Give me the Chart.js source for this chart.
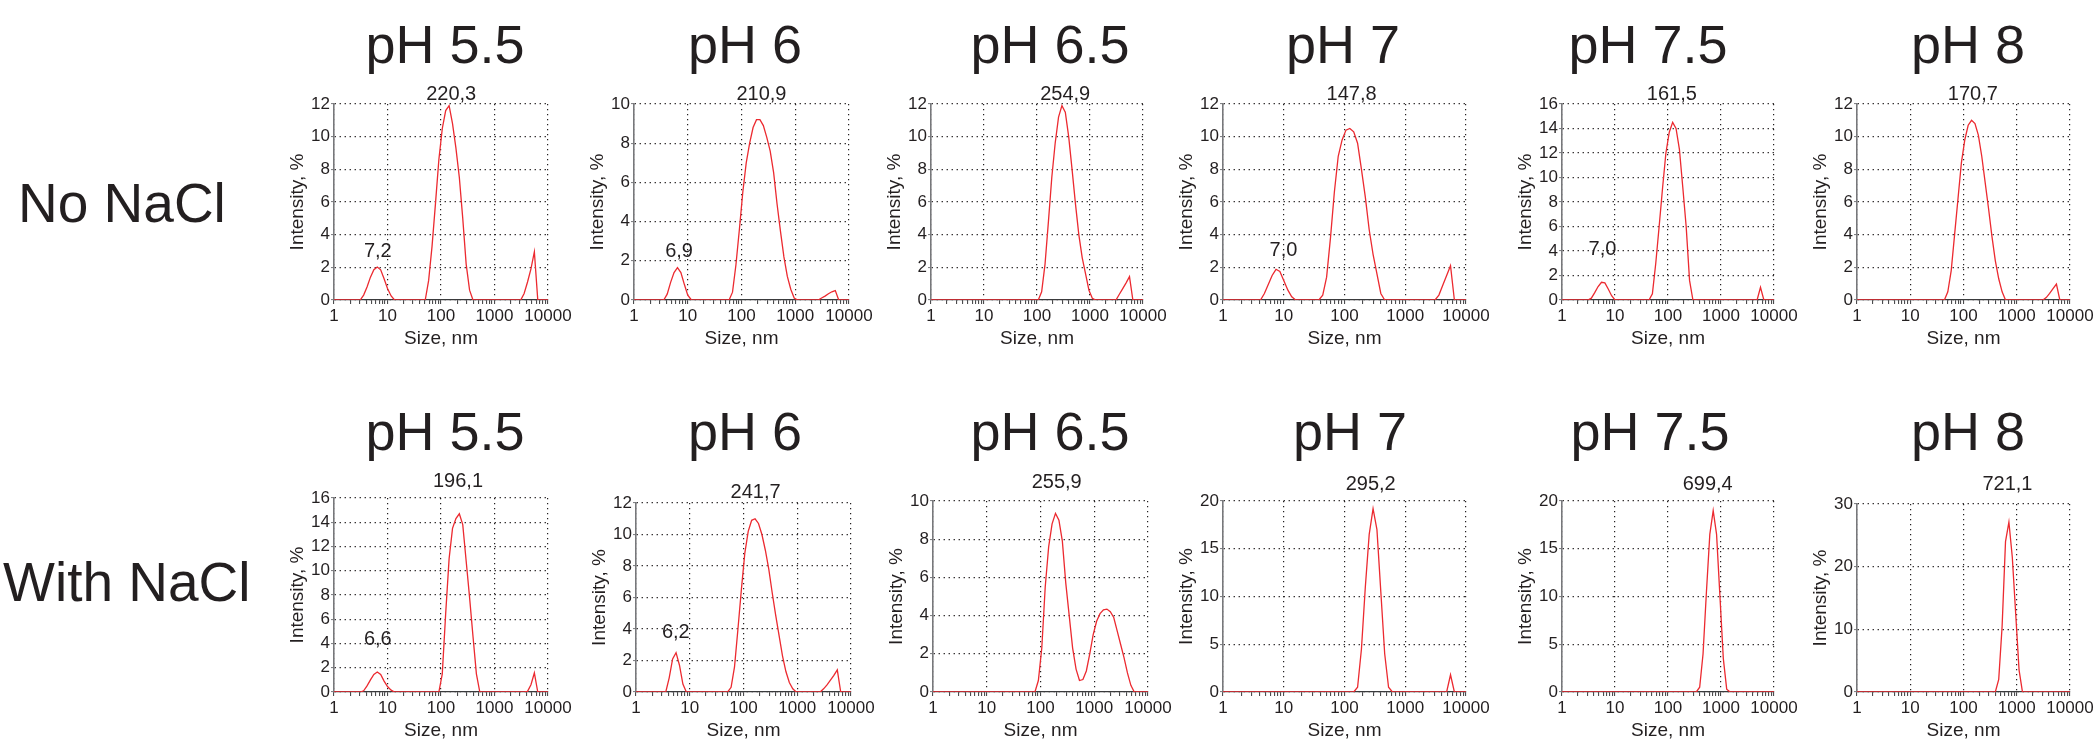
<!DOCTYPE html>
<html>
<head>
<meta charset="utf-8">
<script src="https://cdn.jsdelivr.net/npm/chart.js@4.4.1/dist/chart.umd.min.js"></script>
<style>
  html, body { margin: 0; padding: 0; background: #ffffff; }
  body { width: 2096px; height: 744px; position: relative; overflow: hidden;
         font-family: "Liberation Sans", Arial, Helvetica, sans-serif; color: #231f20; }
  canvas { position: absolute; }
  .t { position: absolute; white-space: nowrap; line-height: 1; text-align: center; }
  .r { position: absolute; white-space: nowrap; line-height: 1; }
</style>
</head>
<body>
<script>
// ---------------- DATA ----------------
const COLUMN_TITLES = ['pH 5.5', 'pH 6', 'pH 6.5', 'pH 7', 'pH 7.5', 'pH 8'];
const ROW_TITLES = ['No NaCl', 'With NaCl'];
const X_TICK_LABELS = [1, 10, 100, 1000, 10000];
const X_AXIS_TITLE = 'Size, nm';
const Y_AXIS_TITLE = 'Intensity, %';

// y-axis maxima and steps (No NaCl row, With NaCl row)
const Y_MAX_NO_NACL   = [12, 10, 12, 12, 16, 12];
const Y_STEP_NO_NACL  = [2, 2, 2, 2, 2, 2];
const Y_MAX_NACL      = [16, 12, 10, 20, 20, 30];
const Y_STEP_NACL     = [2, 2, 2, 5, 5, 10];

// size distributions by intensity: [size nm, intensity %]
const noNaCl_pH55 = [[1,0],[3.091,0],[3.580,0.3],[4.145,0.8],[4.801,1.4],[5.560,1.85],[6.439,2.02],[7.456,1.85],[8.635,1.3],[10,0.7],[11.70,0.25],[13.54,0],
  [50.75,0],[58.77,1.2],[68.06,3.3],[78.82,5.9],[91.28,8.6],[105.7,10.5],[122.4,11.6],[141.8,11.9],[164.2,10.8],[190.1,9.3],[220.2,7.5],[255.0,5.0],[295.3,2.2],[342.0,0.6],[396.1,0],
  [3091,0],[3580,0.4],[4145,1.1],[4801,1.9],[5560,2.95],[6439,0],[10000,0]];
const noNaCl_pH6 = [[1,0],[3.580,0],[4.145,0.3],[4.801,0.9],[5.560,1.4],[6.439,1.65],[7.456,1.4],[8.635,0.8],[10,0.25],[11.70,0],
  [58.77,0],[68.06,0.4],[78.82,1.8],[91.28,3.6],[105.7,5.5],[122.4,7.0],[141.8,8.0],[164.2,8.8],[190.1,9.2],[220.2,9.2],[255.0,8.9],[295.3,8.3],[342.0,7.6],[396.1,6.5],[458.7,4.9],[531.2,3.5],[615.1,2.2],[712.4,1.2],[825.0,0.55],[955.4,0.1],[1106,0],
  [2669,0],[3091,0.1],[3580,0.2],[4145,0.32],[4801,0.42],[5560,0.48],[6439,0],[10000,0]];
const noNaCl_pH65 = [[1,0],[105.7,0],[122.4,0.5],[141.8,2.2],[164.2,4.8],[190.1,7.5],[220.2,9.6],[255.0,11.2],[295.3,11.9],[342.0,11.5],[396.1,10.0],[458.7,8.0],[531.2,5.9],[615.1,4.0],[712.4,2.6],[825.0,1.6],[955.4,0.6],[1106,0.1],[1281,0],
  [3091,0],[3580,0.35],[4145,0.7],[4801,1.05],[5560,1.43],[6439,0],[10000,0]];
const noNaCl_pH7 = [[1,0],[4.145,0],[4.801,0.4],[5.560,0.95],[6.439,1.5],[7.456,1.88],[8.635,1.75],[10,1.2],[11.70,0.6],[13.54,0.2],[15.69,0],
  [37.84,0],[43.82,0.3],[50.75,1.4],[58.77,3.8],[68.06,6.6],[78.82,8.8],[91.28,9.8],[105.7,10.4],[122.4,10.5],[141.8,10.3],[164.2,9.6],[190.1,8.0],[220.2,6.3],[255.0,4.3],[295.3,2.8],[342.0,1.6],[396.1,0.4],[458.7,0],
  [3091,0],[3580,0.3],[4145,0.9],[4801,1.5],[5560,2.1],[6439,0],[10000,0]];
const noNaCl_pH75 = [[1,0],[3.091,0],[3.580,0.15],[4.145,0.6],[4.801,1.1],[5.560,1.45],[6.439,1.4],[7.456,0.9],[8.635,0.35],[10,0],
  [43.82,0],[50.75,0.5],[58.77,3.0],[68.06,6.0],[78.82,9.1],[91.28,12.0],[105.7,13.7],[122.4,14.5],[141.8,14.0],[164.2,12.3],[190.1,9.2],[220.2,6.0],[255.0,1.6],[295.3,0],
  [4801,0],[5560,1.04],[6439,0],[10000,0]];
const noNaCl_pH8 = [[1,0],[43.82,0],[50.75,0.5],[58.77,1.8],[68.06,4.0],[78.82,6.2],[91.28,8.4],[105.7,9.8],[122.4,10.7],[141.8,11.0],[164.2,10.8],[190.1,10.1],[220.2,8.8],[255.0,7.2],[295.3,5.6],[342.0,3.9],[396.1,2.4],[458.7,1.3],[531.2,0.5],[615.1,0],
  [3091,0],[3580,0.15],[4145,0.4],[4801,0.7],[5560,0.98],[6439,0],[10000,0]];

const nacl_pH55 = [[1,0],[3.091,0],[3.580,0.1],[4.145,0.5],[4.801,1.0],[5.560,1.45],[6.439,1.65],[7.456,1.45],[8.635,0.9],[10,0.45],[11.70,0.15],[13.54,0],
  [91.28,0],[105.7,1.5],[122.4,6.5],[141.8,11.0],[164.2,13.5],[190.1,14.3],[220.2,14.7],[255.0,13.8],[295.3,10.8],[342.0,7.8],[396.1,4.6],[458.7,1.5],[531.2,0],
  [3580,0],[4145,0.05],[4801,0.6],[5560,1.57],[6439,0],[10000,0]];
const nacl_pH6 = [[1,0],[3.580,0],[4.145,0.9],[4.801,2.1],[5.560,2.5],[6.439,1.7],[7.456,0.5],[8.635,0],
  [50.75,0],[58.77,0.3],[68.06,1.6],[78.82,4.0],[91.28,6.5],[105.7,8.8],[122.4,10.2],[141.8,10.9],[164.2,11.0],[190.1,10.7],[220.2,10.0],[255.0,9.0],[295.3,7.8],[342.0,6.3],[396.1,4.9],[458.7,3.6],[531.2,2.3],[615.1,1.3],[712.4,0.6],[825.0,0.2],[955.4,0],
  [2669,0],[3091,0.2],[3580,0.45],[4145,0.75],[4801,1.05],[5560,1.4],[6439,0],[10000,0]];
const nacl_pH65 = [[1,0],[78.82,0],[91.28,0.6],[105.7,2.3],[122.4,5.5],[141.8,7.6],[164.2,8.8],[190.1,9.35],[220.2,9.0],[255.0,7.9],[295.3,5.7],[342.0,4.0],[396.1,2.3],[458.7,1.2],[531.2,0.6],[615.1,0.65],[712.4,1.1],[825.0,2.0],[955.4,3.0],[1106,3.7],[1281,4.1],[1484,4.3],[1718,4.34],[1990,4.2],[2305,3.9],[2669,3.2],[3091,2.5],[3580,1.8],[4145,1.0],[4801,0.35],[5560,0],[10000,0]];
const nacl_pH7 = [[1,0],[141.8,0],[164.2,0.5],[190.1,4.5],[220.2,11.0],[255.0,16.5],[295.3,19.2],[342.0,17.0],[396.1,10.5],[458.7,4.0],[531.2,0.5],[615.1,0],
  [4801,0],[5560,1.8],[6439,0],[10000,0]];
const nacl_pH75 = [[1,0],[342.0,0],[396.1,0.5],[458.7,4.0],[531.2,10.5],[615.1,16.5],[712.4,19.0],[825.0,16.5],[955.4,10.0],[1106,3.5],[1281,0.3],[1484,0],[10000,0]];
const nacl_pH8 = [[1,0],[396.1,0],[458.7,2.0],[531.2,10.5],[615.1,24.0],[712.4,27.1],[825.0,21.5],[955.4,12.5],[1106,3.5],[1281,0],[10000,0]];

// peak annotations: [text, size nm, intensity % at text baseline]
const labels_noNaCl_pH55 = [['7,2', 6.6, 2.65], ['220,3', 155, 12.25]];
const labels_noNaCl_pH6  = [['6,9', 6.9, 2.2], ['210,9', 235, 10.2]];
const labels_noNaCl_pH65 = [['254,9', 340, 12.25]];
const labels_noNaCl_pH7  = [['7,0', 9.9, 2.7], ['147,8', 131, 12.25]];
const labels_noNaCl_pH75 = [['7,0', 5.8, 3.64], ['161,5', 118, 16.35]];
const labels_noNaCl_pH8  = [['170,7', 150, 12.25]];
const labels_nacl_pH55 = [['6,6', 6.6, 3.9], ['196,1', 208, 16.9]];
const labels_nacl_pH6  = [['6,2', 5.5, 3.4], ['241,7', 168, 12.3]];
const labels_nacl_pH65 = [['255,9', 200, 10.7]];
const labels_nacl_pH7  = [['295,2', 270, 21.2]];
const labels_nacl_pH75 = [['699,4', 560, 21.2]];
const labels_nacl_pH8  = [['721,1', 668, 32.3]];

const SERIES_NO_NACL = [noNaCl_pH55, noNaCl_pH6, noNaCl_pH65, noNaCl_pH7, noNaCl_pH75, noNaCl_pH8];
const SERIES_NACL = [nacl_pH55, nacl_pH6, nacl_pH65, nacl_pH7, nacl_pH75, nacl_pH8];
const LABELS_NO_NACL = [labels_noNaCl_pH55, labels_noNaCl_pH6, labels_noNaCl_pH65, labels_noNaCl_pH7, labels_noNaCl_pH75, labels_noNaCl_pH8];
const LABELS_NACL = [labels_nacl_pH55, labels_nacl_pH6, labels_nacl_pH65, labels_nacl_pH7, labels_nacl_pH75, labels_nacl_pH8];

// ---------------- LAYOUT (page pixels) ----------------
// plot areas: [left, right, top, bottom]
const PLOT_ROW1 = [[334,548,104,300],[634,849,104,300],[931,1143,104,300],[1223,1466,104,300],[1562,1774,104,300],[1857,2070,104,300]];
const PLOT_ROW2 = [[334,548,498,692],[636,851,503,692],[933,1148,501,692],[1223,1466,501,692],[1562,1774,501,692],[1857,2070,504,692]];
const TITLE_X_ROW1 = [445, 745, 1050, 1343, 1648, 1968];
const TITLE_X_ROW2 = [445, 745, 1050, 1350, 1650, 1968];
const TITLE_BASELINE = [63, 450];
const ROW_LABEL_POS = [[18, 223], [3, 602]];

const TEXT = '#231f20';
const RED = '#ec2a30';
const GRID = '#231f20';
const AXIS_Y = '#77787b';
const AXIS_X = '#3a3a3c';
const FONT = '"Liberation Sans", Arial, Helvetica, sans-serif';

const YW = 52, PADT = 34, PADR = 26, XH = 50;

function addText(cls, txt, left, baseline, size, center) {
  const d = document.createElement('div');
  d.className = cls;
  d.textContent = txt;
  d.style.fontSize = size + 'px';
  const top = baseline - 0.8465 * size;
  d.style.top = top + 'px';
  if (center) { d.style.left = (left - 200) + 'px'; d.style.width = '400px'; }
  else d.style.left = left + 'px';
  document.body.appendChild(d);
}

// minor + major positions for the log axis, derived from the tick labels
const X_ALL_TICKS = [];
for (let i = 0; i < X_TICK_LABELS.length - 1; i++) {
  for (let d = 1; d <= 9; d++) X_ALL_TICKS.push(d * X_TICK_LABELS[i]);
}
X_ALL_TICKS.push(X_TICK_LABELS[X_TICK_LABELS.length - 1]);

function makePanel(plot, series, ymax, ystep, labels) {
  const [L, R, T, B] = plot;
  const cv = document.createElement('canvas');
  const w = YW + (R - L) + PADR, h = PADT + (B - T) + XH;
  cv.width = w; cv.height = h;
  cv.style.left = (L - YW) + 'px';
  cv.style.top = (T - PADT) + 'px';
  cv.style.width = w + 'px'; cv.style.height = h + 'px';
  document.body.appendChild(cv);

  const peakLabels = {
    id: 'peakLabels',
    afterDatasetsDraw(chart) {
      const { ctx, scales: { x, y } } = chart;
      ctx.save();
      ctx.font = '20px ' + FONT;
      ctx.fillStyle = TEXT;
      ctx.textAlign = 'center';
      ctx.textBaseline = 'alphabetic';
      for (const [t, xv, yv] of labels) ctx.fillText(t, x.getPixelForValue(xv), y.getPixelForValue(yv));
      ctx.restore();
    }
  };

  new Chart(cv, {
    type: 'line',
    data: {
      datasets: [{
        data: series.map(([x, y]) => ({ x, y })),
        borderColor: RED, borderWidth: 1.3, pointRadius: 0, tension: 0, fill: false
      }]
    },
    options: {
      responsive: false, animation: false, devicePixelRatio: 1,
      layout: { padding: { left: 0, top: PADT, right: PADR, bottom: 0 } },
      plugins: { legend: { display: false }, tooltip: { enabled: false }, title: { display: false } },
      scales: {
        x: {
          type: 'logarithmic', min: 1, max: 10000,
          afterBuildTicks: s => { s.ticks = X_ALL_TICKS.map(v => ({ value: v, major: X_TICK_LABELS.includes(v) })); },
          afterFit: s => { s.height = XH; },
          ticks: {
            autoSkip: false, maxRotation: 0, minRotation: 0, padding: 2, color: TEXT,
            font: { family: FONT, size: 17 },
            callback: v => X_TICK_LABELS.includes(v) ? String(v) : ''
          },
          grid: {
            color: c => (c.tick && X_TICK_LABELS.includes(c.tick.value)) ? GRID : 'rgba(0,0,0,0)',
            lineWidth: 1.2, tickLength: 4, tickColor: AXIS_X, tickWidth: 1
          },
          border: { display: true, color: AXIS_X, width: 1.2, dash: [1.3, 3.7] },
          title: { display: true, text: X_AXIS_TITLE, color: TEXT, font: { family: FONT, size: 19 }, padding: { top: 0, bottom: 0 } }
        },
        y: {
          min: 0, max: ymax,
          afterFit: s => { s.width = YW; },
          ticks: { stepSize: ystep, padding: 1, color: TEXT, font: { family: FONT, size: 17 } },
          grid: { color: GRID, lineWidth: 1.2, tickLength: 3, tickColor: AXIS_Y, tickWidth: 1 },
          border: { display: true, color: AXIS_Y, width: 1.6, dash: [1.3, 3.7] },
          title: { display: true, text: Y_AXIS_TITLE, color: TEXT, font: { family: FONT, size: 19 }, padding: { top: 4, bottom: 0 } }
        }
      }
    },
    plugins: [peakLabels]
  });
}

// titles
COLUMN_TITLES.forEach((t, i) => {
  addText('t', t, TITLE_X_ROW1[i], TITLE_BASELINE[0], 54, true);
  addText('t', t, TITLE_X_ROW2[i], TITLE_BASELINE[1], 54, true);
});
ROW_TITLES.forEach((t, i) => addText('r', t, ROW_LABEL_POS[i][0], ROW_LABEL_POS[i][1], 55, false));

for (let i = 0; i < 6; i++) {
  makePanel(PLOT_ROW1[i], SERIES_NO_NACL[i], Y_MAX_NO_NACL[i], Y_STEP_NO_NACL[i], LABELS_NO_NACL[i]);
  makePanel(PLOT_ROW2[i], SERIES_NACL[i], Y_MAX_NACL[i], Y_STEP_NACL[i], LABELS_NACL[i]);
}
</script>
</body>
</html>
